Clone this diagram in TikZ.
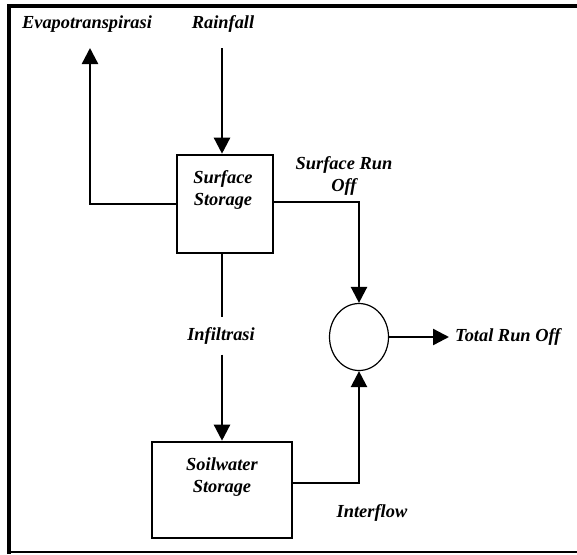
\documentclass[tikz,border=0pt]{standalone}
\usepackage{fontspec}
\setmainfont{Liberation Serif}
\usetikzlibrary{arrows.meta,shapes.geometric}
\begin{document}
\begin{tikzpicture}[x=1pt,y=-1pt,
  lbl/.style={font=\fontsize{18.4}{21.5}\selectfont\bfseries\itshape, align=center, inner sep=0pt},
  boxst/.style={draw, line width=2.6pt, inner sep=0pt},
  flow/.style={line width=2.4pt, -{Triangle[length=16pt,width=16pt]}},
  plainline/.style={line width=2.4pt}]
\useasboundingbox (0,0) rectangle (577,554);
% frame
\draw[line width=4pt] (9,554) -- (9,6) -- (577,6);
\draw[line width=1.5pt] (9,552) -- (577,552);
% boxes
\node[boxst, minimum width=96pt, minimum height=98pt] (ss) at (225,204) {};
\node[lbl] (ssl) at (223,190) {Surface\\Storage};
\node[boxst, minimum width=140pt, minimum height=96pt] (sw) at (222,490) {};
\node[lbl] (swl) at (222,477) {Soilwater\\Storage};
\node[draw, ellipse, line width=1.2pt, minimum width=59pt, minimum height=67pt, inner sep=0pt] (c) at (359,337) {};
% labels
\node[lbl] (ev) at (87,24) {Evapotranspirasi};
\node[lbl] (rain) at (223,24) {Rainfall};
\node[lbl] (sro) at (344,176) {Surface Run\\Off};
\node[lbl, anchor=west] (tro) at (455,337) {Total Run Off};
\node[lbl, minimum height=37pt] (inf) at (221,336) {Infiltrasi};
\node[lbl] (intf) at (372,513) {Interflow};
% coordinates
\coordinate (rainT) at (222,48);
\coordinate (evT) at (90,48);
\coordinate (troT) at (449,337);
% connectors
\draw[flow] (rainT) -- (rainT |- ss.north);
\draw[flow] (ss.west) -| (evT);
\draw[flow] ([yshift=2pt]ss.east) -| (c.north);
\draw[flow] (c.east) -- (troT);
\draw[plainline] (ss.south -| rainT) -- (inf.north -| rainT);
\draw[flow] (inf.south -| rainT) -- (sw.north -| rainT);
\draw[flow] ([yshift=7pt]sw.east) -| (c.south);
\end{tikzpicture}
\end{document}
